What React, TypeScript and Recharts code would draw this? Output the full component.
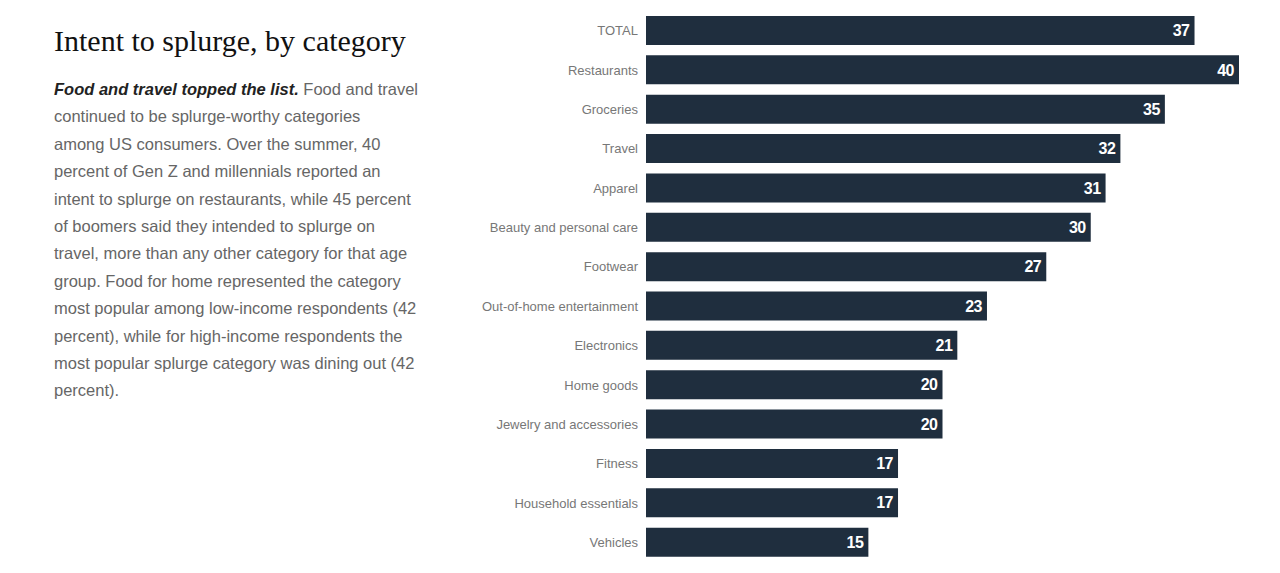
import { BarChart, Bar, XAxis, YAxis, LabelList } from 'recharts';

const categories = [
  'TOTAL',
  'Restaurants',
  'Groceries',
  'Travel',
  'Apparel',
  'Beauty and personal care',
  'Footwear',
  'Out-of-home entertainment',
  'Electronics',
  'Home goods',
  'Jewelry and accessories',
  'Fitness',
  'Household essentials',
  'Vehicles',
];

const splurgeShare = [37, 40, 35, 32, 31, 30, 27, 23, 21, 20, 20, 17, 17, 15];

const bodyLines = [
  'continued to be splurge-worthy categories',
  'among US consumers. Over the summer, 40',
  'percent of Gen Z and millennials reported an',
  'intent to splurge on restaurants, while 45 percent',
  'of boomers said they intended to splurge on',
  'travel, more than any other category for that age',
  'group. Food for home represented the category',
  'most popular among low-income respondents (42',
  'percent), while for high-income respondents the',
  'most popular splurge category was dining out (42',
  'percent).',
];

const data = categories.map((name, i) => ({ name, value: splurgeShare[i] }));

export default function App() {
  return (
    <div style={{ position: 'absolute', left: 0, top: 0, width: 1280, height: 573, background: '#fff', overflow: 'hidden' }}>
      {/* texte de gauche */}
      <div style={{ position: 'absolute', left: 54, top: 26, fontFamily: '"Liberation Serif", serif', fontSize: 30, lineHeight: '30px', color: '#111', whiteSpace: 'nowrap' }}>
        Intent to splurge, by category
      </div>
      <div style={{ position: 'absolute', left: 54, top: 76, fontFamily: '"Liberation Sans", Arial, sans-serif', fontSize: 16.5, lineHeight: '27.4px', color: '#666', whiteSpace: 'nowrap' }}>
        <div>
          <span style={{ fontWeight: 700, fontStyle: 'italic', color: '#222' }}>Food and travel topped the list.</span> Food and travel
        </div>
        {bodyLines.map((l) => (
          <div key={l}>{l}</div>
        ))}
      </div>

      {/* barres */}
      <div style={{ position: 'absolute', left: 0, top: 0 }}>
        <BarChart
          width={1280}
          height={573}
          data={data}
          layout="vertical"
          margin={{ top: 11, right: 41, bottom: 11, left: 0 }}
        >
          <XAxis type="number" domain={[0, 40]} hide />
          <YAxis
            type="category"
            dataKey="name"
            width={646}
            axisLine={false}
            tickLine={false}
            tick={{ fontSize: 13, fill: '#777', fontFamily: '"Liberation Sans", Arial, sans-serif' }}
            interval={0}
          />
          <Bar dataKey="value" fill="#1f2e3e" barSize={29} isAnimationActive={false}>
            <LabelList
              dataKey="value"
              position="insideRight"
              offset={5}
              fill="#fff"
              style={{ fontSize: 16, fontWeight: 700, fontFamily: '"Liberation Sans", Arial, sans-serif', letterSpacing: -0.5 }}
            />
          </Bar>
        </BarChart>
      </div>
    </div>
  );
}
